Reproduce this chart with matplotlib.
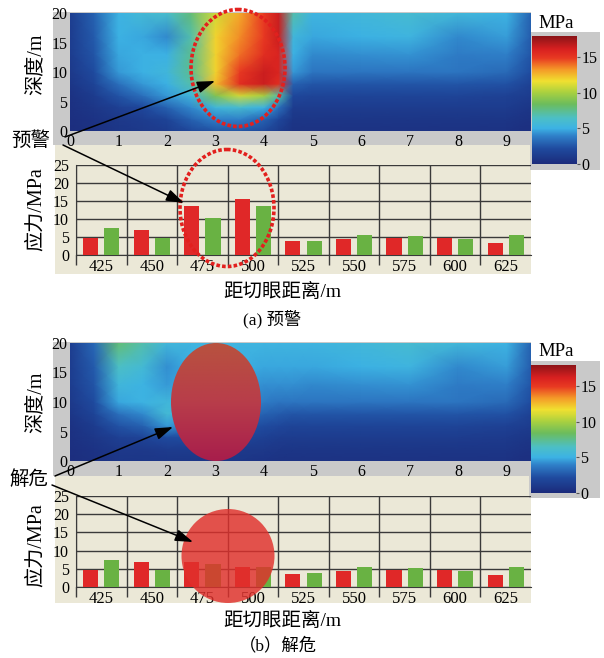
import numpy as np
import matplotlib
matplotlib.use('Agg')
import matplotlib.pyplot as plt
from matplotlib.colors import LinearSegmentedColormap
from matplotlib.patches import Ellipse, Rectangle

plt.rcParams['font.family'] = ['Liberation Serif', 'Noto Sans CJK SC']

W, H = 604, 658

# ---- data ----
x_pos     = [0, 0.5, 1, 1.5, 2, 2.5, 3, 3.5, 4, 4.3, 4.6, 5, 6, 7, 8, 9, 9.5]
depth_pos = [0, 2, 4, 6, 8, 10, 13, 16, 20]

# rows: depth 0 -> 20, columns follow x_pos (MPa)
stress_a = [
    [0.3, 0.5, 0.8, 1.0, 1.2, 2.0, 2.5, 2.5, 2.0, 1.2, 0.6, 0.6, 0.6, 0.6, 0.6, 0.6, 0.4],
    [0.4, 0.7, 1.0, 1.3, 1.8, 3.0, 4.0, 4.0, 3.0, 2.0, 0.8, 0.8, 0.8, 0.8, 0.8, 0.8, 0.6],
    [0.5, 0.9, 1.5, 2.0, 3.0, 4.2, 5.5, 6.0, 5.0, 3.5, 1.2, 1.2, 1.2, 1.2, 1.2, 1.2, 0.8],
    [0.6, 1.2, 2.5, 3.5, 4.5, 5.5, 9.0, 11.0, 10.0, 7.0, 2.0, 1.8, 1.8, 1.8, 1.8, 1.6, 1.2],
    [0.8, 1.8, 3.5, 4.5, 5.0, 7.0, 12.5, 15.5, 16.5, 15.5, 3.0, 2.6, 2.6, 2.6, 2.6, 2.4, 1.6],
    [1.0, 2.2, 4.5, 5.0, 5.5, 7.5, 12.0, 15.0, 16.5, 16.0, 4.5, 3.6, 3.6, 3.6, 3.6, 3.3, 2.2],
    [1.2, 2.6, 4.8, 5.0, 5.0, 7.5, 12.0, 14.0, 15.5, 16.0, 5.0, 4.2, 4.3, 4.4, 3.8, 4.0, 2.6],
    [1.2, 2.8, 5.0, 4.8, 4.2, 7.0, 12.0, 13.5, 15.0, 16.5, 5.5, 4.8, 5.0, 5.3, 4.2, 4.6, 2.8],
    [1.3, 3.0, 5.2, 5.8, 6.2, 8.0, 11.0, 13.0, 15.0, 16.5, 7.0, 5.3, 5.6, 6.0, 5.6, 5.2, 3.0],
]
stress_b = [
    [0.3, 0.5, 0.8, 0.8, 0.8, 0.8, 0.8, 0.8, 0.7, 0.6, 0.6, 0.6, 0.6, 0.6, 0.6, 0.6, 0.4],
    [0.4, 0.7, 1.0, 1.0, 1.2, 1.2, 1.2, 1.1, 1.0, 0.9, 0.8, 0.8, 0.8, 0.8, 0.8, 0.8, 0.6],
    [0.5, 0.9, 1.5, 1.8, 2.2, 2.2, 2.0, 1.8, 1.5, 1.3, 1.2, 1.2, 1.2, 1.2, 1.2, 1.1, 0.8],
    [0.6, 1.2, 2.5, 3.0, 4.5, 3.8, 3.0, 2.5, 2.2, 2.0, 1.8, 1.8, 1.8, 1.8, 1.8, 1.6, 1.2],
    [0.8, 1.8, 3.5, 4.2, 5.8, 5.0, 4.0, 3.5, 3.0, 2.8, 2.6, 2.6, 2.6, 2.6, 2.6, 2.4, 1.6],
    [1.0, 2.2, 4.8, 5.2, 5.5, 5.2, 4.8, 4.2, 3.8, 3.6, 3.6, 3.6, 3.6, 3.6, 3.6, 3.3, 2.2],
    [1.2, 2.6, 5.5, 5.2, 4.5, 5.0, 5.0, 4.6, 4.3, 4.3, 4.3, 4.2, 4.3, 4.4, 3.8, 4.0, 2.6],
    [1.2, 2.8, 6.5, 5.8, 4.3, 5.0, 5.2, 5.0, 4.8, 4.8, 4.8, 4.8, 5.0, 5.3, 4.2, 4.6, 2.8],
    [1.3, 3.2, 8.0, 7.0, 5.5, 5.3, 5.3, 5.3, 5.3, 5.3, 5.3, 5.3, 5.6, 6.0, 5.6, 5.2, 3.0],
]

dist_labels = ['425', '450', '475', '500', '525', '550', '575', '600', '625']
red_a   = [4.8, 6.9, 13.7, 15.5, 3.8, 4.4, 4.8, 4.8, 3.4]
green_a = [7.4, 4.8, 10.4, 13.6, 4.0, 5.6, 5.2, 4.5, 5.5]
red_b   = [4.8, 6.9, 6.8, 5.4, 3.7, 4.4, 4.8, 4.8, 3.3]
green_b = [7.4, 4.8, 6.3, 5.5, 3.9, 5.4, 5.3, 4.4, 5.4]

heat_xticks = list(range(10))
heat_yticks = [0, 5, 10, 15, 20]
bar_yticks  = [0, 5, 10, 15, 20, 25]
cbar_ticks  = [0, 5, 10, 15]

# colour scale sampled from the legend bar
cmap = LinearSegmentedColormap.from_list('stress', [
    (0.00, '#1b2a7a'), (0.12, '#1f4a9e'), (0.22, '#2f7fc8'), (0.28, '#3cb2e4'),
    (0.36, '#4cbfc6'), (0.47, '#6cbc5c'), (0.56, '#a8d040'), (0.65, '#f0e030'),
    (0.74, '#f49a28'), (0.83, '#e83a22'), (0.90, '#d82020'), (1.00, '#8c1418')])

RED, GREEN = '#e02828', '#69b243'
GRAY, BEIGE, LINE = '#c9c9c9', '#ebe8d7', '#3a3a3a'


def px_rect(l, t, r, b):
    return [l / W, 1 - b / H, (r - l) / W, (b - t) / H]


def draw_heat(ax, Z):
    m = ax.pcolormesh(x_pos, depth_pos, np.array(Z), shading='gouraud',
                      cmap=cmap, vmin=0, vmax=18)
    ax.set_xlim(0, 9.5)
    ax.set_ylim(0, 20)
    ax.set_xticks(heat_xticks)
    ax.set_yticks(heat_yticks)
    ax.tick_params(length=0, labelsize=11.5, pad=2)
    for s in ax.spines.values():
        s.set_visible(False)
    return m


def draw_bars(ax, red, green):
    idx = np.arange(len(dist_labels))
    ax.bar(idx - 0.21, red, 0.30, color=RED, zorder=3)
    ax.bar(idx + 0.21, green, 0.30, color=GREEN, zorder=3)
    ax.set_xlim(-0.5, 8.5)
    ax.set_ylim(0, 25)
    ax.set_facecolor('none')
    ax.set_xticks(idx)
    ax.set_xticklabels(dist_labels)
    ax.set_xticks(np.arange(-0.5, 8.0, 1), minor=True)
    ax.set_yticks(bar_yticks)
    ax.set_axisbelow(True)
    ax.yaxis.grid(True, color=LINE, lw=1)
    ax.xaxis.grid(True, which='minor', color=LINE, lw=1)
    ax.tick_params(axis='x', which='minor', length=7, color=LINE, width=1)
    ax.tick_params(axis='x', which='major', length=0, labelsize=12, pad=3)
    ax.tick_params(axis='y', length=0, labelsize=11.5, pad=5)
    ax.spines['top'].set_visible(False)
    ax.spines['right'].set_visible(False)
    ax.spines['left'].set_color(LINE)
    ax.spines['bottom'].set_color(LINE)


def draw_cbar(fig, m, rect):
    cax = fig.add_axes(px_rect(*rect))
    cb = fig.colorbar(m, cax=cax, ticks=cbar_ticks)
    cb.outline.set_visible(False)
    cax.tick_params(length=2, labelsize=11.5, pad=1, color='#555555')


fig = plt.figure(figsize=(W / 100, H / 100), dpi=100)

bg = fig.add_axes([0, 0, 1, 1], zorder=-1)
bg.set_xlim(0, W)
bg.set_ylim(H, 0)
bg.axis('off')
for (x0, y0, x1, y1, c) in [(53, 12, 531, 145, GRAY), (55, 145, 531, 274, BEIGE),
                            (530, 32, 600, 170, GRAY),
                            (53, 342, 531, 476, GRAY), (55, 476, 531, 603, BEIGE),
                            (529, 361, 600, 498, GRAY)]:
    bg.add_patch(Rectangle((x0, y0), x1 - x0, y1 - y0, color=c, lw=0))

# ---- panel (a) ----
ha = fig.add_axes(px_rect(70, 13, 531, 131))
ma = draw_heat(ha, stress_a)
ba = fig.add_axes(px_rect(76, 165, 531, 255))
draw_bars(ba, red_a, green_a)
draw_cbar(fig, ma, (532, 36, 577, 164))

# ---- panel (b) ----
hb = fig.add_axes(px_rect(70, 343, 531, 461))
mb = draw_heat(hb, stress_b)
bb = fig.add_axes(px_rect(76, 496, 531, 587))
draw_bars(bb, red_b, green_b)
draw_cbar(fig, mb, (531, 365, 576, 493))

# ---- overlay: labels, rings, arrows ----
fg = fig.add_axes([0, 0, 1, 1], zorder=10)
fg.axis('off')

fg.add_patch(Ellipse((238, 68), 94, 117, fill=False, ec='#e2201e', lw=2.6,
                     ls=(0, (1, 0.6))))
fg.add_patch(Ellipse((227, 208), 94, 117, fill=False, ec='#e2201e', lw=2.6,
                     ls=(0, (1, 0.6))))

ell = Ellipse((216, 402), 90, 118, fc='none', ec='none')
fg.add_patch(ell)
grad = LinearSegmentedColormap.from_list('g', ['#b8523f', '#b83d4a', '#a81e4c'])
im = fg.imshow(np.linspace(0, 1, 64).reshape(-1, 1), cmap=grad, aspect='auto',
               extent=[171, 261, 461, 343], origin='upper', zorder=5)
im.set_clip_path(ell)
fg.add_patch(Ellipse((228, 556), 93, 94, fc='#e0302c', ec='none', alpha=0.82,
                     zorder=6))

arrow = dict(arrowstyle='-|>,head_length=0.9,head_width=0.3', color='k', lw=1.1,
             mutation_scale=12, shrinkA=0, shrinkB=0)
for start, tip in [((65, 137), (215, 81)), ((63, 145), (184, 203)),
                   ((55, 476), (173, 427)), ((52, 485), (193, 542))]:
    fg.annotate('', xy=tip, xytext=start, arrowprops=arrow, zorder=8)

fg.text(31, 141, '预警', fontsize=14, ha='center', va='center')
fg.text(29, 480, '解危', fontsize=14, ha='center', va='center')

for y in (64, 402):
    fg.text(36, y, '深度/m', fontsize=14.5, rotation=90, ha='center', va='center')
for y in (209, 545):
    fg.text(36, y, '应力/MPa', fontsize=14.5, rotation=90, ha='center', va='center')
for y in (23, 351):
    fg.text(556, y, 'MPa', fontsize=13.5, ha='center', va='center')
fg.text(282, 292, '距切眼距离/m', fontsize=14, ha='center', va='center')
fg.text(282, 621, '距切眼距离/m', fontsize=14, ha='center', va='center')
fg.text(272, 319, '(a) 预警', fontsize=12.5, ha='center', va='center')
fg.text(278, 646, '（b）解危', fontsize=12.5, ha='center', va='center')

fg.set_xlim(0, W)
fg.set_ylim(H, 0)

fig.savefig('out.png', dpi=100)
